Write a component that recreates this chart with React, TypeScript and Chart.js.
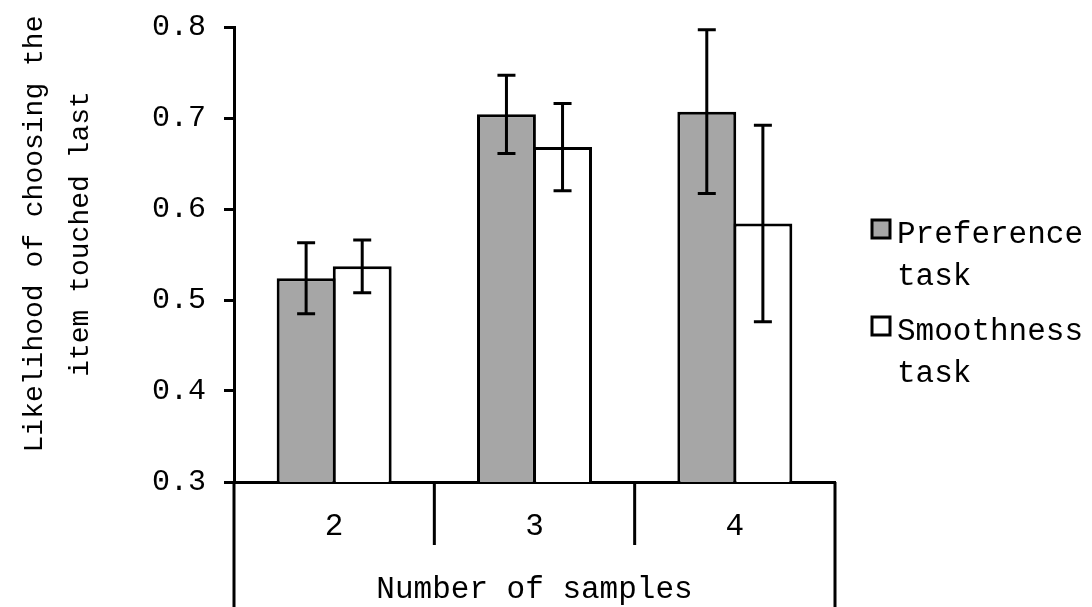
import React, { useEffect, useRef } from "react";
import { Chart, registerables } from "chart.js";

Chart.register(...registerables);

const categories = ["2", "3", "4"];
const seriesNames = [["Preference", "task"], ["Smoothness", "task"]];
const preference = [0.524, 0.704, 0.707];
const preferenceErr = [0.039, 0.043, 0.09];
const smoothness = [0.537, 0.668, 0.584];
const smoothnessErr = [0.029, 0.048, 0.108];
const yTitle = ["Likelihood of choosing the", "item touched last"];
const xTitle = "Number of samples";
const FONT = "'Liberation Mono', monospace";

const errorBarPlugin = {
  id: "errorBars",
  afterDatasetsDraw(chart: any) {
    const ctx = chart.ctx;
    const y = chart.scales.y;
    const errs = [preferenceErr, smoothnessErr];
    ctx.save();
    ctx.strokeStyle = "#000";
    ctx.lineWidth = 3;
    chart.data.datasets.forEach((ds: any, di: number) => {
      const meta = chart.getDatasetMeta(di);
      meta.data.forEach((bar: any, i: number) => {
        const v = ds.data[i];
        const e = errs[di][i];
        const yt = y.getPixelForValue(v + e);
        const yb = y.getPixelForValue(v - e);
        const x = bar.x;
        ctx.beginPath();
        ctx.moveTo(x, yt);
        ctx.lineTo(x, yb);
        ctx.moveTo(x - 9, yt);
        ctx.lineTo(x + 9, yt);
        ctx.moveTo(x - 9, yb);
        ctx.lineTo(x + 9, yb);
        ctx.stroke();
      });
    });
    ctx.restore();
  },
};

const framePlugin = {
  id: "frame",
  afterDraw(chart: any) {
    const ctx = chart.ctx;
    const { left, right, bottom } = chart.chartArea;
    const xs = chart.scales.x;
    const H = chart.height;
    ctx.save();
    ctx.strokeStyle = "#000";
    ctx.lineWidth = 3;
    ctx.beginPath();
    ctx.moveTo(left, bottom);
    ctx.lineTo(left, H);
    ctx.moveTo(right, bottom);
    ctx.lineTo(right, H);
    for (let i = 1; i < categories.length; i++) {
      const xp = (xs.getPixelForValue(i - 1) + xs.getPixelForValue(i)) / 2;
      ctx.moveTo(xp, bottom);
      ctx.lineTo(xp, bottom + 63);
    }
    ctx.stroke();

    ctx.fillStyle = "#000";
    // x title
    ctx.font = `31px ${FONT}`;
    ctx.textAlign = "center";
    ctx.textBaseline = "alphabetic";
    ctx.fillText(xTitle, (left + right) / 2, 598);

    // y title
    ctx.save();
    ctx.translate(0, 234);
    ctx.rotate(-Math.PI / 2);
    ctx.font = `28px ${FONT}`;
    ctx.fillText(yTitle[0], 0, 42);
    ctx.fillText(yTitle[1], 0, 88);
    ctx.restore();

    // legend
    const fills = ["#A6A6A6", "#FFFFFF"];
    const baselines = [243, 340];
    ctx.font = `31px ${FONT}`;
    ctx.textAlign = "left";
    seriesNames.forEach((lines, i) => {
      const b = baselines[i];
      ctx.fillStyle = fills[i];
      ctx.fillRect(872, b - 23, 18, 18);
      ctx.lineWidth = 3;
      ctx.strokeStyle = "#000";
      ctx.strokeRect(872, b - 23, 18, 18);
      ctx.fillStyle = "#000";
      ctx.fillText(lines[0], 897, b);
      ctx.fillText(lines[1], 897, b + 42);
    });
    ctx.restore();
  },
};

export default function App() {
  const ref = useRef<HTMLCanvasElement>(null);
  useEffect(() => {
    document.body.style.margin = "0";
    const chart = new Chart(ref.current!, {
      type: "bar",
      data: {
        labels: categories,
        datasets: [
          {
            label: seriesNames[0].join(" "),
            data: preference,
            backgroundColor: "#A6A6A6",
            borderColor: "#000",
            borderWidth: 3,
            categoryPercentage: 0.56,
            barPercentage: 1.05,
          },
          {
            label: seriesNames[1].join(" "),
            data: smoothness,
            backgroundColor: "#FFFFFF",
            borderColor: "#000",
            borderWidth: 3,
            categoryPercentage: 0.56,
            barPercentage: 1.05,
          },
        ],
      },
      options: {
        animation: false,
        responsive: false,
        maintainAspectRatio: false,
        layout: { padding: { left: 0, top: 27, right: 257, bottom: 0 } },
        plugins: { legend: { display: false }, tooltip: { enabled: false } },
        scales: {
          x: {
            grid: { display: false, drawTicks: false },
            border: { display: true, color: "#000", width: 3 },
            ticks: {
              color: "#000",
              font: { family: FONT, size: 31 },
              padding: 26,
            },
            afterFit: (s: any) => {
              s.height = 125;
              s.paddingLeft = 0;
              s.paddingRight = 0;
            },
          },
          y: {
            min: 0.3,
            max: 0.8,
            grid: {
              drawOnChartArea: false,
              drawTicks: true,
              tickLength: 10,
              color: "#000",
              lineWidth: 3,
            },
            border: { display: true, color: "#000", width: 3 },
            ticks: {
              stepSize: 0.1,
              color: "#000",
              font: { family: FONT, size: 30 },
              padding: 18,
              callback: (v: any) => Number(v).toFixed(1),
            },
            afterFit: (s: any) => {
              s.width = 234;
              s.paddingTop = 0;
              s.paddingBottom = 0;
            },
          },
        },
      },
      plugins: [errorBarPlugin, framePlugin],
    });
    return () => chart.destroy();
  }, []);
  return (
    <div style={{ position: "absolute", left: 0, top: 0, width: 1092, height: 607 }}>
      <canvas ref={ref} width={1092} height={607} style={{ display: "block" }} />
    </div>
  );
}
